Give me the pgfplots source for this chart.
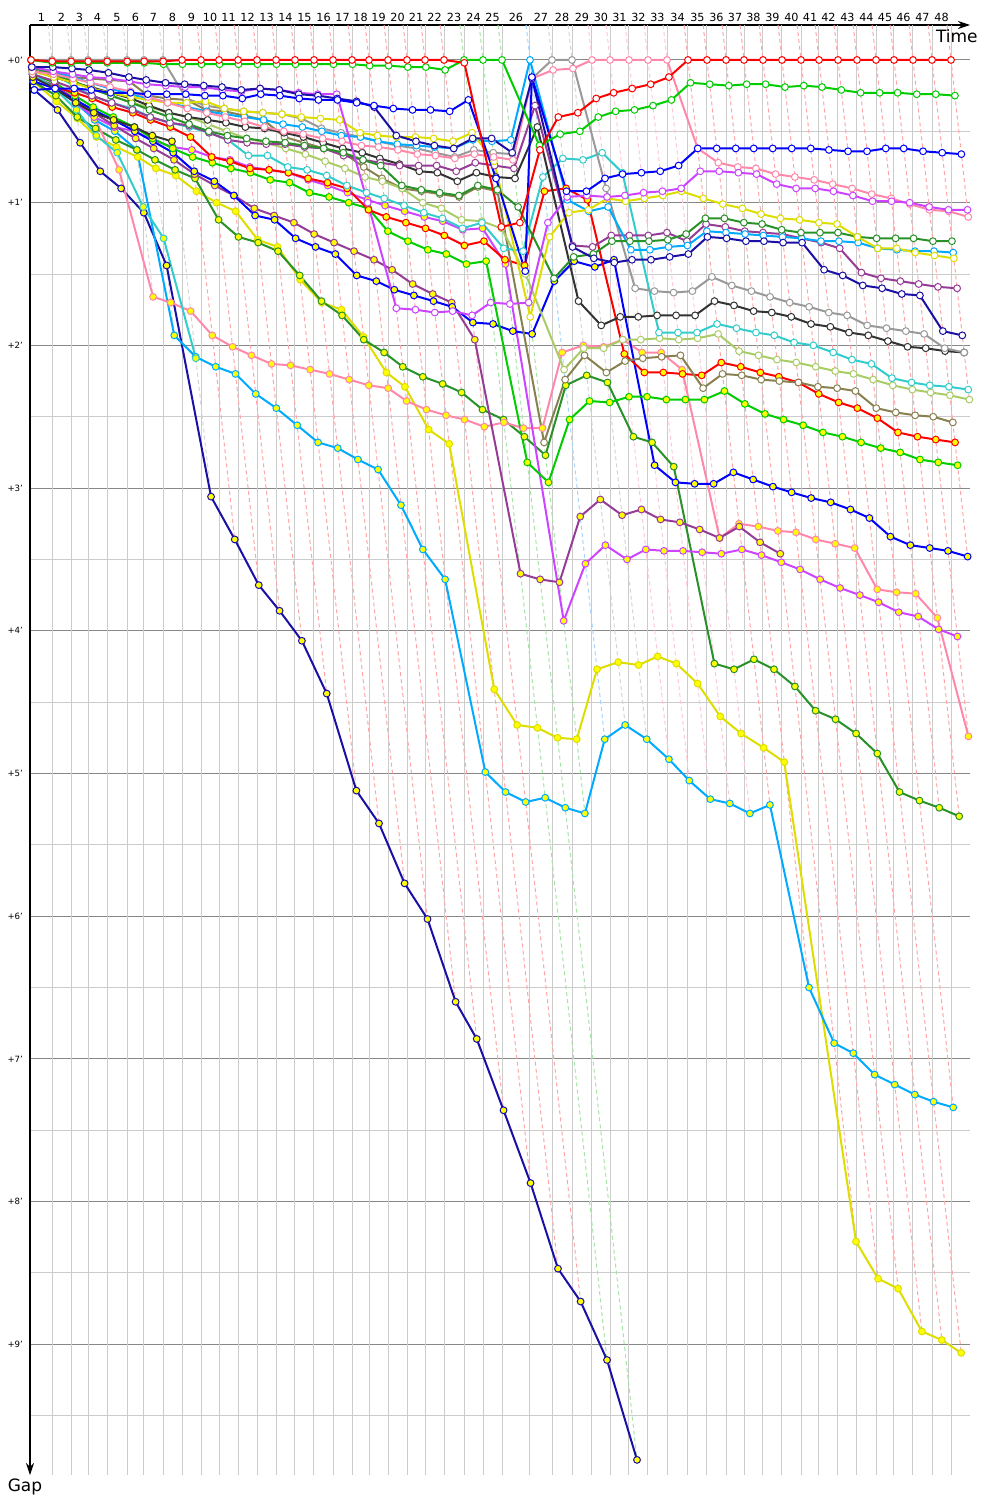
\documentclass[border=0pt]{standalone}
\usepackage{pgfplots}
\pgfplotsset{compat=1.18}
\usepackage{pgfplotstable}
\usetikzlibrary{arrows.meta}
\usepackage{fontspec}
\setmainfont{DejaVu Sans}

\definecolor{cR}{RGB}{255,0,0}
\definecolor{cG}{RGB}{0,204,0}
\definecolor{cB}{RGB}{0,0,255}
\definecolor{cN}{RGB}{26,16,166}
\definecolor{cM}{RGB}{204,68,255}
\definecolor{cP}{RGB}{255,136,170}
\definecolor{cY}{RGB}{221,221,0}
\definecolor{cD}{RGB}{40,145,40}
\definecolor{cL}{RGB}{0,170,255}
\definecolor{cU}{RGB}{150,60,150}
\definecolor{cA}{RGB}{153,153,153}
\definecolor{cK}{RGB}{51,51,51}
\definecolor{cC}{RGB}{51,204,204}
\definecolor{cO}{RGB}{170,204,102}
\definecolor{cV}{RGB}{136,128,80}
\definecolor{mkY}{RGB}{255,255,0}
\definecolor{lR}{RGB}{255,165,165}
\definecolor{lG}{RGB}{165,228,165}
\definecolor{lB}{RGB}{165,212,255}
\definecolor{lA}{RGB}{212,212,212}
\definecolor{lP}{RGB}{255,200,215}
\definecolor{gridL}{RGB}{204,204,204}
\definecolor{gridD}{RGB}{136,136,136}

\pgfplotsset{
  serW/.style={color=#1, line width=1pt, mark=*, mark size=1.7pt,
    mark options={solid, line width=0.5pt, draw=#1, fill=white}},
  serY/.style={color=#1, line width=1pt, mark=*, mark size=1.7pt,
    mark options={solid, line width=0.5pt, draw=#1, fill=mkY}},
  lap/.style={draw=#1, line width=0.5pt, dash pattern=on 2pt off 1.5pt, mark=none},
}
\newcommand{\ser}[3]{\addplot[#1=#2] table[x expr=\thisrow{t}+\thisrow{#3}, y=#3]{\data};}

% gap (minutes) of each car at the end of each lap; t = leader's race time (minutes); -9 = no lap
\pgfplotstableread{
lap t rW gW bW nW mW pW yW dW lW uW aW kW cW oW vW rY gY bY mY pY dY lY yY nY uY cY kY
0 0 0 0 0.21 0.05 0.05 0.08 0.08 0.05 0.05 0.10 0 0.07 0.05 0.05 0.08 0.12 0.10 0.15 0.10 0.12 0.15 0.10 0.15 0.21 0.12 0.10 0.12
1 1.338 0.01 0.02 0.20 0.05 0.08 0.10 0.12 0.10 0.08 0.15 0 0.12 0.10 0.10 0.09 0.19 0.16 0.20 0.20 0.18 0.25 0.15 0.29 0.35 0.18 0.20 0.20
2 2.548 0.01 0.02 0.20 0.06 0.10 0.13 0.16 0.15 0.12 0.20 0 0.16 0.18 0.15 0.12 0.23 0.25 0.28 0.30 0.26 0.40 0.30 0.41 0.58 0.28 0.35 0.30
3 3.631 0.01 0.02 0.21 0.07 0.12 0.16 0.20 0.20 0.16 0.25 0 0.19 0.25 0.20 0.13 0.27 0.33 0.35 0.40 0.40 0.48 0.42 0.54 0.78 0.37 0.53 0.37
4 4.841 0.01 0.02 0.23 0.09 0.13 0.19 0.23 0.25 0.20 0.30 0 0.23 0.30 0.25 0.14 0.33 0.40 0.42 0.47 0.77 0.56 0.50 0.61 0.90 0.46 0.65 0.42
5 6.115 0.01 0.02 0.23 0.12 0.15 0.22 0.26 0.30 0.24 0.35 0 0.27 0.34 0.30 0.15 0.37 0.47 0.50 0.50 1.66 0.63 0.63 0.68 1.07 0.55 1.03 0.47
6 7.197 0.01 0.02 0.24 0.14 0.17 0.26 0.28 0.35 0.27 0.40 0 0.32 0.40 0.33 0.25 0.42 0.55 0.57 0.56 1.70 0.70 1.93 0.76 1.44 0.62 1.25 0.53
7 8.408 0.01 0.03 0.24 0.16 0.18 0.30 0.30 0.40 0.30 0.44 0 0.37 0.44 0.37 0.27 0.47 0.62 0.65 0.61 1.76 0.77 2.08 0.81 3.06 0.70 2.09 0.57
8 9.618 0 0.03 0.24 0.17 0.19 0.34 0.30 0.45 0.33 0.46 0.27 0.40 0.47 0.40 0.28 0.54 0.68 0.78 0.63 1.93 0.83 2.15 0.92 3.36 0.80 -9 -9
9 10.828 0 0.03 0.25 0.18 0.19 0.37 0.29 0.50 0.36 0.51 0.32 0.42 0.51 0.45 0.35 0.68 0.72 0.85 0.68 2.01 1.12 2.20 1.00 3.68 0.88 -9 -9
10 11.975 0 0.03 0.25 0.19 0.21 0.40 0.34 0.53 0.38 0.56 0.34 0.44 0.56 0.50 0.36 0.71 0.76 0.95 0.70 2.07 1.24 2.34 1.06 3.86 0.95 -9 -9
11 13.185 0 0.03 0.27 0.21 0.22 0.43 0.36 0.55 0.40 0.58 0.36 0.47 0.67 0.55 0.39 0.76 0.79 1.09 0.75 2.13 1.28 2.44 1.26 4.07 1.04 -9 -9
12 14.395 0 0.03 0.24 0.20 0.20 0.47 0.37 0.57 0.42 0.59 0.37 0.48 0.67 0.58 0.42 0.77 0.84 1.12 0.77 2.14 1.34 2.56 1.31 4.44 1.09 -9 -9
13 15.605 0 0.03 0.25 0.21 0.21 0.50 0.38 0.58 0.45 0.59 0.38 0.51 0.75 0.62 0.54 0.79 0.86 1.25 0.79 2.17 1.51 2.68 1.54 5.12 1.14 -9 -9
14 16.815 0 0.03 0.27 0.24 0.23 0.52 0.40 0.60 0.47 0.61 0.41 0.54 0.77 0.66 0.58 0.83 0.93 1.31 0.84 2.20 1.69 2.72 1.70 5.35 1.22 -9 -9
15 18.025 0 0.03 0.28 0.25 0.24 0.55 0.41 0.62 0.50 0.62 0.48 0.58 0.81 0.71 0.62 0.86 0.96 1.36 0.88 2.24 1.79 2.80 1.75 5.77 1.28 -9 -9
16 19.236 0 0.03 0.28 0.27 0.24 0.57 0.42 0.65 0.53 0.67 0.51 0.62 0.88 0.76 0.65 0.90 1.00 1.51 0.93 2.28 1.96 2.87 1.94 6.02 1.34 -9 -9
17 20.446 0 0.03 0.30 0.29 1.00 0.60 0.51 0.70 0.54 0.70 0.54 0.65 0.93 0.82 0.75 1.05 1.04 1.55 0.98 2.30 2.05 3.12 2.19 6.60 1.40 -9 -9
18 21.529 0 0.04 0.32 0.33 1.74 0.61 0.53 0.74 0.57 0.72 0.57 0.69 0.97 0.85 0.83 1.10 1.20 1.61 1.02 2.39 2.15 3.43 2.29 6.86 1.47 -9 -9
19 22.739 0 0.04 0.34 0.53 1.75 0.63 0.54 0.88 0.59 0.74 0.60 0.73 1.02 0.90 0.90 1.14 1.27 1.65 1.06 2.45 2.22 3.64 2.59 7.36 1.57 -9 -9
20 23.949 0 0.05 0.35 0.57 1.77 0.66 0.54 0.91 0.60 0.74 0.62 0.78 1.07 1.00 0.92 1.18 1.33 1.69 1.10 2.49 2.27 4.99 2.69 7.87 1.64 -9 -9
21 25.096 0 0.05 0.35 0.60 1.76 0.67 0.55 0.93 0.61 0.74 0.65 0.79 1.11 1.04 0.94 1.23 1.36 1.73 1.13 2.52 2.33 5.13 4.41 8.47 1.70 -9 -9
22 26.306 0 0.07 0.36 0.62 1.79 0.69 0.57 0.95 0.62 0.78 0.68 0.85 1.18 1.12 0.96 1.30 1.43 1.84 1.19 2.57 2.45 5.20 4.66 8.70 1.96 -9 -9
23 27.580 0.02 0 0.28 0.55 1.70 0.66 0.51 0.88 0.56 0.72 0.63 0.79 1.14 1.13 0.89 1.27 1.41 1.85 1.18 2.54 2.52 5.17 4.68 9.11 3.60 -9 -9
24 28.790 1.17 0 0.83 0.55 1.71 0.68 0.71 0.91 0.57 0.74 0.65 0.82 1.32 1.18 0.92 1.40 2.82 1.90 1.43 2.58 2.64 5.24 4.75 9.81 3.64 -9 -9
25 30.000 1.14 0 1.48 0.65 1.70 0.70 1.80 1.03 0.56 0.76 0.66 0.83 1.34 1.50 2.68 1.44 2.96 1.92 3.93 2.58 2.77 5.28 4.76 -9 3.66 -9 -9
26 31.783 0.63 0.60 0.12 0.13 1.14 0.13 1.24 1.53 0 0.32 0.13 0.47 0.82 2.17 2.24 0.92 2.52 1.55 3.53 2.05 2.28 4.76 4.27 -9 3.20 -9 -9
27 33.185 0.40 0.52 0.92 1.31 0.96 0.07 1.07 1.38 0.98 1.30 0 1.69 0.69 2.02 2.07 0.90 2.39 1.41 3.40 2.00 2.21 4.66 4.22 -9 3.08 -9 -9
28 34.459 0.37 0.50 0.92 1.39 0.95 0.06 1.05 1.36 1.06 1.31 0 1.86 0.70 2.02 2.19 0.98 2.40 1.45 3.50 2.01 2.26 4.76 4.24 -9 3.19 -9 -9
29 35.732 0.27 0.40 0.83 1.42 0.96 0 0.97 1.27 1.03 1.23 0.90 1.80 0.65 1.96 2.11 2.06 2.36 1.40 3.43 1.96 2.64 4.90 4.18 -9 3.15 -9 -9
30 36.879 0.23 0.36 0.80 1.40 0.95 0 0.99 1.27 1.33 1.23 1.60 1.80 0.79 1.96 2.09 2.19 2.36 2.84 3.44 2.05 2.68 5.05 4.23 -9 3.22 -9 -9
31 38.089 0.20 0.35 0.79 1.40 0.93 0 0.97 1.27 1.33 1.23 1.62 1.79 1.91 1.95 2.08 2.19 2.38 2.96 3.44 2.05 2.85 5.18 4.37 -9 3.24 -9 -9
32 39.299 0.17 0.32 0.78 1.38 0.92 0 0.95 1.26 1.31 1.21 1.63 1.79 1.91 1.96 2.07 2.20 2.38 2.97 3.45 2.17 4.23 5.21 4.60 -9 3.29 -9 -9
33 40.510 0.12 0.28 0.74 1.36 0.90 0 0.92 1.22 1.30 1.27 1.62 1.79 1.91 1.95 2.30 2.21 2.38 2.97 3.46 3.35 4.27 5.28 4.72 -9 3.35 -9 -9
34 41.847 0 0.16 0.62 1.24 0.78 0.62 0.97 1.11 1.20 1.15 1.52 1.69 1.85 1.92 2.20 2.12 2.32 2.89 3.43 3.25 4.20 5.22 4.82 -9 3.27 -9 -9
35 43.057 0 0.17 0.62 1.25 0.78 0.72 1.01 1.11 1.21 1.17 1.58 1.72 1.88 2.04 2.21 2.15 2.41 2.94 3.47 3.27 4.27 6.50 4.92 -9 3.38 -9 -9
36 44.268 0 0.18 0.62 1.27 0.79 0.75 1.04 1.14 1.22 1.20 1.62 1.76 1.91 2.07 2.24 2.19 2.48 2.99 3.52 3.30 4.39 6.89 8.28 -9 3.46 -9 -9
37 45.414 0 0.17 0.62 1.27 0.80 0.76 1.08 1.15 1.23 1.21 1.66 1.77 1.93 2.10 2.25 2.22 2.52 3.03 3.57 3.31 4.56 6.96 8.54 -9 -9 -9 -9
38 46.624 0 0.17 0.62 1.28 0.87 0.80 1.11 1.19 1.24 1.22 1.70 1.80 1.98 2.12 2.26 2.26 2.56 3.07 3.64 3.36 4.62 7.11 8.61 -9 -9 -9 -9
39 47.834 0 0.19 0.62 1.28 0.90 0.82 1.12 1.21 1.25 1.25 1.73 1.85 2.00 2.15 2.29 2.34 2.61 3.10 3.70 3.39 4.72 7.18 8.91 -9 -9 -9 -9
40 49.045 0 0.18 0.62 1.47 0.90 0.84 1.14 1.21 1.27 1.28 1.77 1.87 2.05 2.18 2.30 2.40 2.64 3.15 3.75 3.42 4.86 7.25 8.97 -9 -9 -9 -9
41 50.191 0 0.19 0.63 1.51 0.92 0.87 1.15 1.21 1.27 1.32 1.79 1.91 2.10 2.20 2.32 2.44 2.68 3.21 3.80 3.71 5.13 7.30 9.06 -9 -9 -9 -9
42 51.401 0 0.21 0.64 1.58 0.95 0.90 1.24 1.24 1.28 1.49 1.86 1.93 2.13 2.24 2.44 2.51 2.72 3.34 3.87 3.73 5.19 7.34 -9 -9 -9 -9 -9
43 52.611 0 0.23 0.64 1.60 0.99 0.94 1.32 1.25 1.32 1.53 1.88 1.97 2.23 2.28 2.47 2.61 2.75 3.40 3.90 3.74 5.24 -9 -9 -9 -9 -9 -9
44 53.822 0 0.23 0.62 1.64 0.99 0.97 1.32 1.25 1.33 1.55 1.90 2.01 2.26 2.31 2.49 2.64 2.80 3.42 3.99 3.91 5.30 -9 -9 -9 -9 -9 -9
45 54.968 0 0.23 0.62 1.65 1.00 1.01 1.35 1.25 1.34 1.57 1.92 2.02 2.28 2.33 2.50 2.66 2.82 3.44 4.04 4.74 -9 -9 -9 -9 -9 -9 -9
46 56.178 0 0.24 0.64 1.90 1.03 1.05 1.37 1.27 1.34 1.59 2.02 2.04 2.29 2.35 2.54 2.68 2.84 3.48 -9 -9 -9 -9 -9 -9 -9 -9 -9
47 57.389 0 0.24 0.65 1.93 1.05 1.06 1.39 1.27 1.35 1.60 2.05 2.05 2.31 2.38 -9 -9 -9 -9 -9 -9 -9 -9 -9 -9 -9 -9 -9
48 58.599 0 0.25 0.66 -9 1.05 1.10 -9 -9 -9 -9 -9 -9 -9 -9 -9 -9 -9 -9 -9 -9 -9 -9 -9 -9 -9 -9 -9
}\data

\begin{document}
\begin{tikzpicture}
\begin{axis}[
  name=ax,
  scale only axis, width=470pt, height=725pt,
  xmin=-0.064, xmax=59.81, ymin=-0.245, ymax=9.916,
  y dir=reverse,
  axis x line=top, axis y line=left,
  axis line style={line width=0.7pt, black},
  x axis line style={-{Stealth[length=6pt,width=4pt]}},
  y axis line style={-{Stealth[length=6pt,width=4pt]}},
  restrict y to domain=-1:11,
  major tick length=0pt, minor tick length=0pt,
  xtick={0.669,1.943,3.0895,4.236,5.478,6.656,7.8025,9.013,10.223,11.4015,12.58,13.79,15.0,16.21,17.42,18.6305,19.841,20.9875,22.134,23.344,24.5225,25.701,26.943,28.185,29.395,30.8915,32.484,33.822,35.0955,36.3055,37.484,38.694,39.9045,41.1785,42.452,43.6625,44.841,46.019,47.229,48.4395,49.618,50.796,52.006,53.2165,54.395,55.573,56.7835,57.994},
  xticklabels={1,2,3,4,5,6,7,8,9,10,11,12,13,14,15,16,17,18,19,20,21,22,23,24,25,26,27,28,29,30,31,32,33,34,35,36,37,38,39,40,41,42,43,44,45,46,47,48},
  x tick label style={font=\fontsize{5.6}{6}\selectfont, inner sep=1.5pt},
  extra x ticks={1.338,2.548,3.631,4.841,6.115,7.197,8.408,9.618,10.828,11.975,13.185,14.395,15.605,16.815,18.025,19.236,20.446,21.529,22.739,23.949,25.096,26.306,27.580,28.790,30.000,31.783,33.185,34.459,35.732,36.879,38.089,39.299,40.510,41.847,43.057,44.268,45.414,46.624,47.834,49.045,50.191,51.401,52.611,53.822,54.968,56.178,57.389,58.599},
  extra x tick labels={},
  extra x tick style={grid=major, major grid style={draw=gridL, line width=0.5pt}},
  ytick={0,1,2,3,4,5,6,7,8,9},
  yticklabels={+0',+1',+2',+3',+4',+5',+6',+7',+8',+9'},
  y tick label style={font=\fontsize{4.3}{5}\selectfont},
  minor ytick={0.5,1.5,2.5,3.5,4.5,5.5,6.5,7.5,8.5,9.5},
  ymajorgrids, yminorgrids,
  major grid style={draw=gridD, line width=0.5pt},
  minor grid style={draw=gridL, line width=0.5pt},
]
% lap lines (colour of the leader of that lap)
\addplot[lap=lA] coordinates {(1.093,-0.245) (1.688,0.35)};
\addplot[lap=lA] coordinates {(2.303,-0.245) (3.128,0.58)};
\addplot[lap=lA] coordinates {(3.386,-0.245) (4.411,0.78)};
\addplot[lap=lA] coordinates {(4.596,-0.245) (5.741,0.90)};
\addplot[lap=lA] coordinates {(5.870,-0.245) (7.775,1.66)};
\addplot[lap=lA] coordinates {(6.952,-0.245) (9.127,1.93)};
\addplot[lap=lA] coordinates {(8.163,-0.245) (11.468,3.06)};
\addplot[lap=lR] coordinates {(9.373,-0.245) (12.978,3.36)};
\addplot[lap=lR] coordinates {(10.583,-0.245) (14.508,3.68)};
\addplot[lap=lR] coordinates {(11.730,-0.245) (15.835,3.86)};
\addplot[lap=lR] coordinates {(12.940,-0.245) (17.255,4.07)};
\addplot[lap=lR] coordinates {(14.150,-0.245) (18.835,4.44)};
\addplot[lap=lR] coordinates {(15.360,-0.245) (20.725,5.12)};
\addplot[lap=lR] coordinates {(16.570,-0.245) (22.165,5.35)};
\addplot[lap=lR] coordinates {(17.780,-0.245) (23.795,5.77)};
\addplot[lap=lR] coordinates {(18.991,-0.245) (25.256,6.02)};
\addplot[lap=lR] coordinates {(20.201,-0.245) (27.046,6.60)};
\addplot[lap=lR] coordinates {(21.284,-0.245) (28.389,6.86)};
\addplot[lap=lR] coordinates {(22.494,-0.245) (30.099,7.36)};
\addplot[lap=lR] coordinates {(23.704,-0.245) (31.819,7.87)};
\addplot[lap=lR] coordinates {(24.851,-0.245) (33.566,8.47)};
\addplot[lap=lR] coordinates {(26.061,-0.245) (35.006,8.70)};
\addplot[lap=lG] coordinates {(27.335,-0.245) (36.690,9.11)};
\addplot[lap=lG] coordinates {(28.545,-0.245) (38.600,9.81)};
\addplot[lap=lG] coordinates {(29.755,-0.245) (35.280,5.28)};
\addplot[lap=lB] coordinates {(31.538,-0.245) (36.543,4.76)};
\addplot[lap=lA] coordinates {(32.940,-0.245) (37.845,4.66)};
\addplot[lap=lA] coordinates {(34.214,-0.245) (39.219,4.76)};
\addplot[lap=lP] coordinates {(35.487,-0.245) (40.632,4.90)};
\addplot[lap=lP] coordinates {(36.634,-0.245) (41.929,5.05)};
\addplot[lap=lP] coordinates {(37.844,-0.245) (43.269,5.18)};
\addplot[lap=lP] coordinates {(39.054,-0.245) (44.509,5.21)};
\addplot[lap=lP] coordinates {(40.265,-0.245) (45.790,5.28)};
\addplot[lap=lR] coordinates {(41.602,-0.245) (47.067,5.22)};
\addplot[lap=lR] coordinates {(42.812,-0.245) (49.557,6.50)};
\addplot[lap=lR] coordinates {(44.023,-0.245) (52.548,8.28)};
\addplot[lap=lR] coordinates {(45.169,-0.245) (53.954,8.54)};
\addplot[lap=lR] coordinates {(46.379,-0.245) (55.234,8.61)};
\addplot[lap=lR] coordinates {(47.589,-0.245) (56.744,8.91)};
\addplot[lap=lR] coordinates {(48.800,-0.245) (58.015,8.97)};
\addplot[lap=lR] coordinates {(49.946,-0.245) (59.251,9.06)};
\addplot[lap=lR] coordinates {(51.156,-0.245) (58.741,7.34)};
\addplot[lap=lR] coordinates {(52.366,-0.245) (57.851,5.24)};
\addplot[lap=lR] coordinates {(53.577,-0.245) (59.122,5.30)};
\addplot[lap=lR] coordinates {(54.723,-0.245) (59.708,4.74)};
\addplot[lap=lR] coordinates {(55.933,-0.245) (59.658,3.48)};
\addplot[lap=lR] coordinates {(57.144,-0.245) (59.769,2.38)};
\addplot[lap=lR] coordinates {(58.354,-0.245) (59.699,1.10)};
% lapped cars
\ser{serY}{cN}{nY}
\ser{serY}{cY}{yY}
\ser{serY}{cL}{lY}
\ser{serY}{cD}{dY}
\ser{serY}{cP}{pY}
\ser{serY}{cM}{mY}
\ser{serY}{cU}{uY}
\ser{serY}{cB}{bY}
\ser{serY}{cG}{gY}
\ser{serY}{cR}{rY}
\ser{serY}{cC}{cY}
\ser{serY}{cK}{kY}
% lead-lap cars
\ser{serW}{cV}{vW}
\ser{serW}{cO}{oW}
\ser{serW}{cC}{cW}
\ser{serW}{cK}{kW}
\ser{serW}{cA}{aW}
\ser{serW}{cU}{uW}
\ser{serW}{cL}{lW}
\ser{serW}{cD}{dW}
\ser{serW}{cY}{yW}
\ser{serW}{cP}{pW}
\ser{serW}{cM}{mW}
\ser{serW}{cN}{nW}
\ser{serW}{cB}{bW}
\ser{serW}{cG}{gW}
\ser{serW}{cR}{rW}
\end{axis}
\node[anchor=north east, font=\fontsize{8.5}{10}\selectfont, inner sep=0pt] at ([xshift=4pt,yshift=-2pt]ax.north east) {Time};
\node[anchor=north, font=\fontsize{8.5}{10}\selectfont, inner sep=0pt] at ([xshift=-2.5pt,yshift=-1.5pt]ax.south west) {Gap};
\pgfresetboundingbox
\path ([shift={(-15pt,12.5pt)}]ax.north west) rectangle ([shift={(15pt,-12.5pt)}]ax.south east);
\end{tikzpicture}
\end{document}
